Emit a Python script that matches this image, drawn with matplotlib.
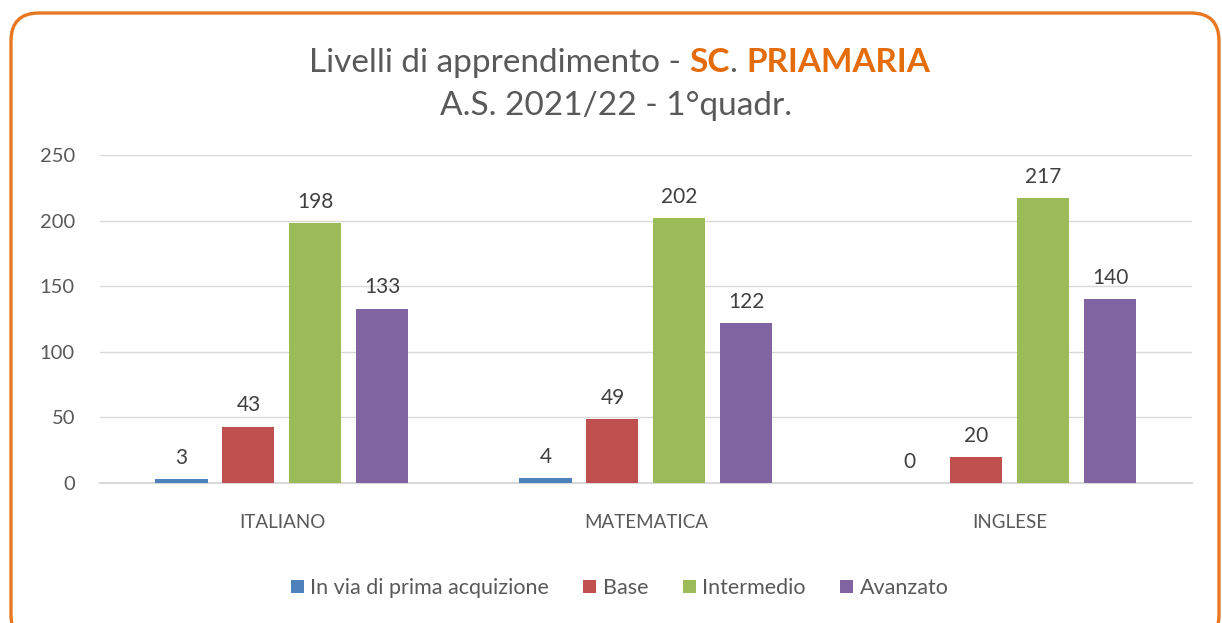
import matplotlib
matplotlib.use('Agg')
import matplotlib.pyplot as plt
import numpy as np
from matplotlib.patches import FancyBboxPatch
from matplotlib.transforms import IdentityTransform

# dati
materie = ['ITALIANO', 'MATEMATICA', 'INGLESE']
livelli = ['In via di prima acquizione', 'Base', 'Intermedio', 'Avanzato']
in_via = [3, 4, 0]
base = [43, 49, 20]
intermedio = [198, 202, 217]
avanzato = [133, 122, 140]
colori = ['#4F81BD', '#C0504D', '#9BBB59', '#8064A2']
yticks = [0, 50, 100, 150, 200, 250]

plt.rcParams['font.family'] = ['Lato', 'DejaVu Sans']
GRIGIO = '#595959'
ARANCIO = '#E46C0A'

fig = plt.figure(figsize=(12.22, 6.23), dpi=100)
ax = fig.add_axes([0.0818, 0.2247, 0.8936, 0.5265])

x = np.arange(len(materie))
passo = 0.184
larghezza = 0.143
serie = [in_via, base, intermedio, avanzato]
for i, (vals, nome, col) in enumerate(zip(serie, livelli, colori)):
    bars = ax.bar(x + (i - 1.5) * passo, vals, larghezza, color=col, label=nome, zorder=3)
    ax.bar_label(bars, padding=8, fontsize=15, color='#404040')

ax.set_xlim(-0.5, 2.5)
ax.set_ylim(0, 250)
ax.set_yticks(yticks)
ax.set_xticks(x)
ax.set_xticklabels(materie)
ax.tick_params(axis='x', length=0, pad=22, labelsize=13.5, labelcolor=GRIGIO)
ax.tick_params(axis='y', length=0, pad=18, labelsize=14.5, labelcolor=GRIGIO)
ax.grid(axis='y', color='#D9D9D9', linewidth=1, zorder=0)
for s in ['top', 'right', 'left']:
    ax.spines[s].set_visible(False)
ax.spines['bottom'].set_color('#D9D9D9')
ax.spines['bottom'].set_linewidth(1.5)

# legenda
fig.legend(loc='center', bbox_to_anchor=(0.507, 0.056), ncol=4, frameon=False,
           fontsize=15.5, labelcolor=GRIGIO, handlelength=0.6, handleheight=0.6,
           handletextpad=0.3, columnspacing=1.6)

# titolo con parti colorate
fig.canvas.draw()
r = fig.canvas.get_renderer()
parti = [("Livelli di apprendimento - ", GRIGIO, 'normal'),
         ("SC", ARANCIO, 'bold'),
         (". ", GRIGIO, 'normal'),
         ("PRIAMARIA", ARANCIO, 'bold')]
testi = [fig.text(0, 0.884, s, color=c, fontweight=w, fontsize=24, ha='left', va='baseline')
         for s, c, w in parti]
larg = [t.get_window_extent(r).width for t in testi]
totale = sum(larg)
x0 = 0.507 * fig.bbox.width - totale / 2
for t, w in zip(testi, larg):
    t.set_x(x0 / fig.bbox.width)
    x0 += w
fig.text(0.504, 0.815, "A.S. 2021/22 - 1°quadr.", color=GRIGIO, fontsize=24,
         ha='center', va='baseline')

# cornice arrotondata
cornice = FancyBboxPatch((11, -20), 1208, 630,
                         boxstyle="round,pad=0,rounding_size=28",
                         transform=IdentityTransform(), facecolor='none',
                         edgecolor='#E87722', linewidth=2.4)
fig.patches.append(cornice)

fig.savefig('out.png', dpi=100)
